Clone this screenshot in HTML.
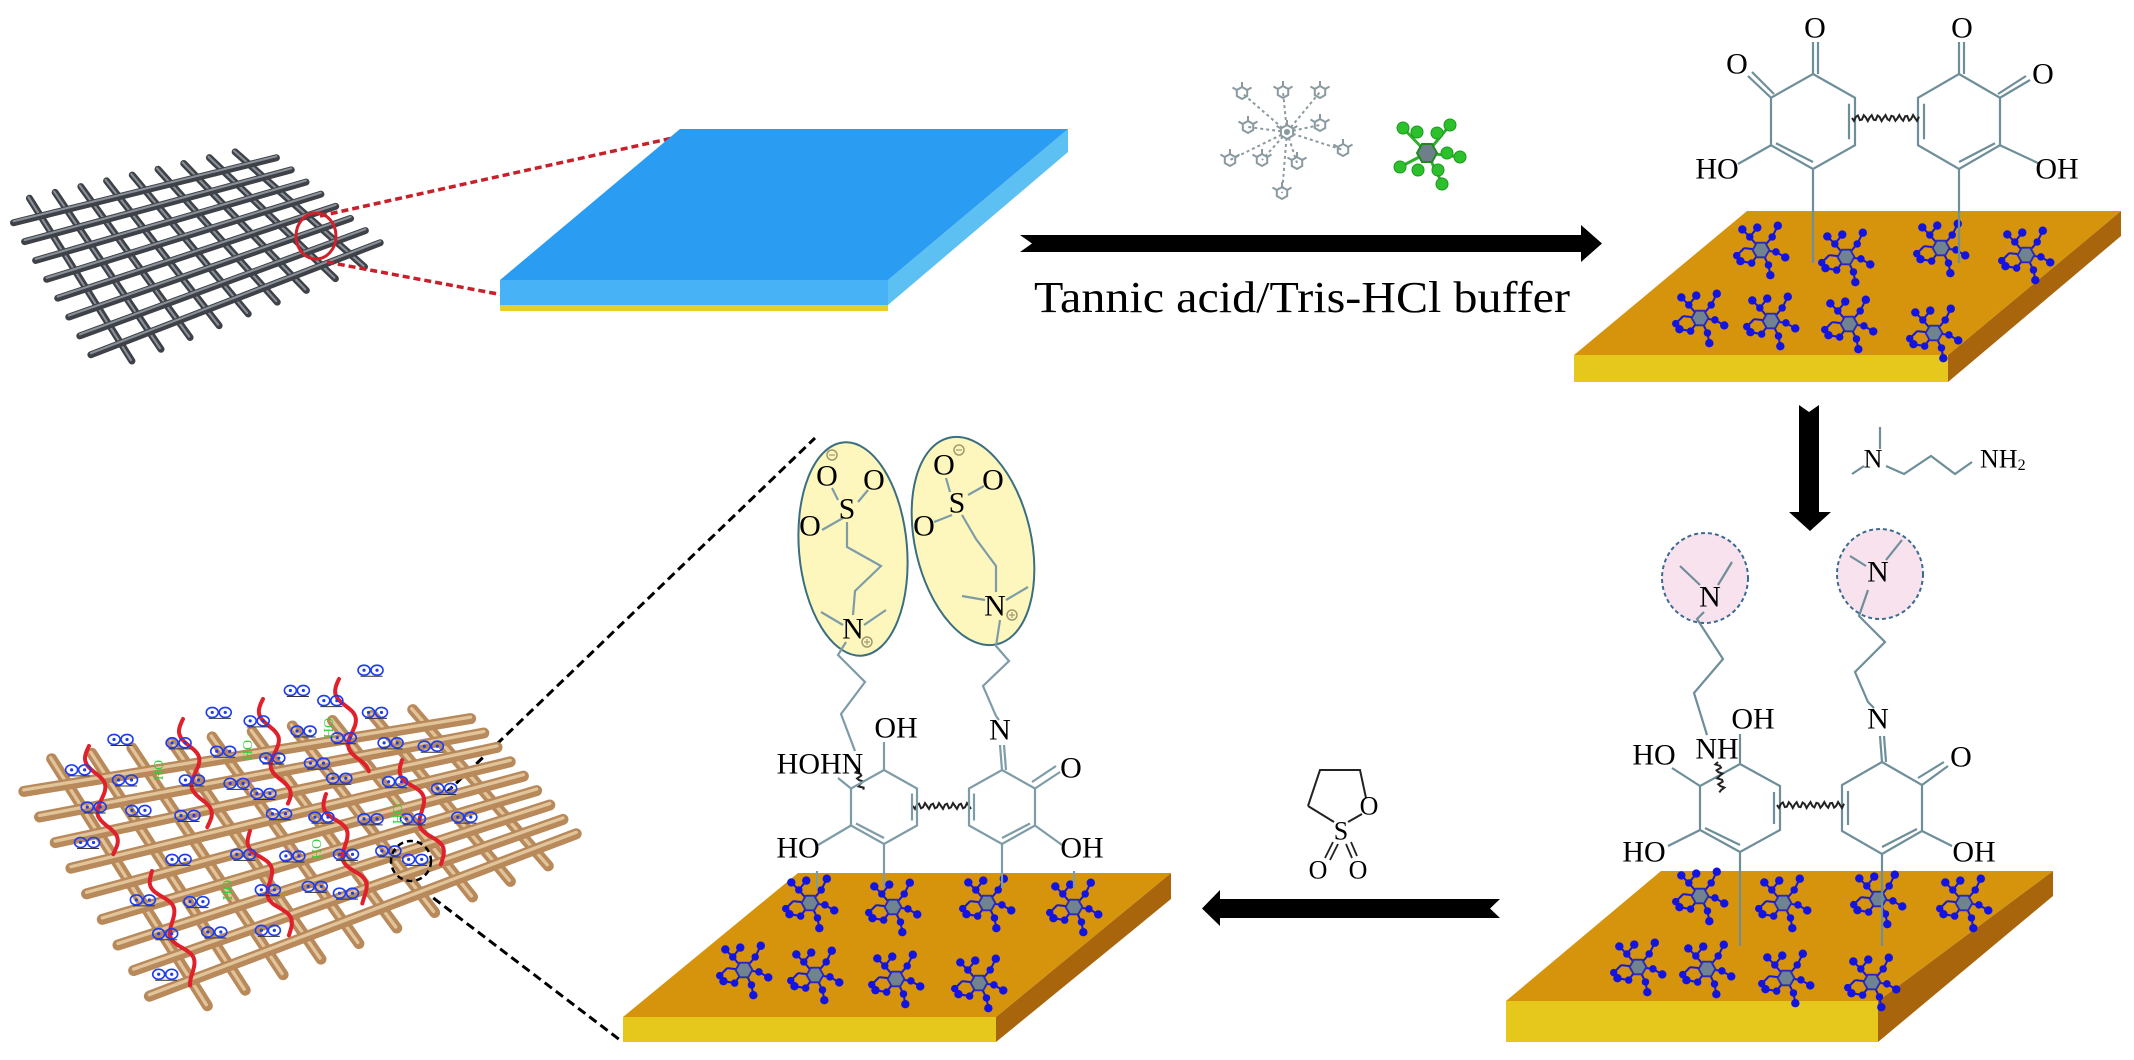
<!DOCTYPE html>
<html><head><meta charset="utf-8"><style>
html,body{margin:0;padding:0;background:#fff;}
svg{display:block;}
text{font-family:"Liberation Serif",serif;fill:#000;}
.lb{font-size:30px;}
</style></head><body>
<svg id="s" width="2134" height="1060" viewBox="0 0 2134 1060" xmlns="http://www.w3.org/2000/svg">
<defs>
<symbol id="cl" viewBox="-32 -30 64 60" overflow="visible">
 <g stroke="#1818d8" stroke-width="2.2" fill="none">
  <line x1="0" y1="0" x2="-12" y2="-14"/><line x1="-12" y1="-14" x2="-20" y2="-22"/><line x1="-12" y1="-14" x2="-4" y2="-24"/>
  <line x1="0" y1="0" x2="12" y2="-14"/><line x1="12" y1="-14" x2="18" y2="-26"/>
  <line x1="0" y1="0" x2="16" y2="2"/><line x1="16" y1="2" x2="26" y2="8"/>
  <line x1="0" y1="0" x2="8" y2="16"/><line x1="8" y1="16" x2="10" y2="27"/>
  <line x1="0" y1="0" x2="-10" y2="14"/><line x1="-10" y1="14" x2="-22" y2="12"/>
  <line x1="0" y1="0" x2="-18" y2="-2"/><line x1="-18" y1="-2" x2="-26" y2="6"/>
 </g>
 <g fill="#1414e0">
  <circle cx="-20" cy="-22" r="4.5"/><circle cx="-4" cy="-24" r="4.5"/><circle cx="-12" cy="-14" r="4"/>
  <circle cx="12" cy="-14" r="4"/><circle cx="18" cy="-26" r="4.5"/>
  <circle cx="16" cy="2" r="4"/><circle cx="26" cy="8" r="4.5"/>
  <circle cx="8" cy="16" r="4"/><circle cx="10" cy="27" r="4.5"/>
  <circle cx="-10" cy="14" r="4"/><circle cx="-22" cy="12" r="4.5"/>
  <circle cx="-26" cy="6" r="4"/>
 </g>
 <polygon points="9,0 4.5,7.8 -4.5,7.8 -9,0 -4.5,-7.8 4.5,-7.8" fill="#6f8490" stroke="#2a2ab8" stroke-width="2"/>
</symbol>
<symbol id="oo" viewBox="-14 -6 28 12" overflow="visible">
 <g fill="none" stroke="#1e3cf0" stroke-width="1.6"><ellipse cx="-6.5" cy="0" rx="6" ry="5"/><ellipse cx="6.5" cy="0" rx="6" ry="5"/></g>
 <circle cx="-6.5" cy="0" r="1.6" fill="#1e3cf0"/><circle cx="6.5" cy="0" r="1.6" fill="#1e3cf0"/>
</symbol>
</defs>

<!-- top-left dark mesh -->
<g id="mesh1"></g>
<ellipse cx="316" cy="236" rx="20" ry="23" fill="none" stroke="#d0202a" stroke-width="3"/>
<line x1="320" y1="216" x2="677" y2="137" stroke="#c8202a" stroke-width="3.5" stroke-dasharray="7,4"/>
<line x1="327" y1="262" x2="514" y2="297" stroke="#c8202a" stroke-width="3.5" stroke-dasharray="7,4"/>

<!-- blue slab -->
<polygon points="888,280 1068,129 1068,152 888,305" fill="#5cc0f2"/>
<polygon points="500,280 888,280 888,305 500,305" fill="#47b2f5"/>
<polygon points="500,305 888,305 888,311 500,311" fill="#e2d030"/>
<polygon points="680,129 1068,129 888,280 500,280" fill="#2a9df2"/>

<!-- top arrow -->
<polygon points="1020,235 1581,235 1581,225 1602,243.5 1581,262 1581,252 1020,252 1032,243.5" fill="#000"/>
<text x="1302" y="312" font-size="44" text-anchor="middle" textLength="536" lengthAdjust="spacingAndGlyphs">Tannic acid/Tris-HCl buffer</text>

<g id="tannic" stroke="#8a9aa0" stroke-width="2" fill="none"></g>
<g stroke="#2fb02f" stroke-width="3">
 <line x1="1427" y1="153" x2="1403" y2="128"/><line x1="1427" y1="153" x2="1450" y2="125"/>
 <line x1="1427" y1="153" x2="1460" y2="157"/><line x1="1427" y1="153" x2="1442" y2="183"/>
 <line x1="1427" y1="153" x2="1400" y2="167"/>
</g>
<g fill="#2cc02c" stroke="#1c9a1c" stroke-width="1">
 <circle cx="1403" cy="128" r="6"/><circle cx="1417" cy="132" r="6"/><circle cx="1437" cy="133" r="6"/><circle cx="1450" cy="125" r="6"/>
 <circle cx="1447" cy="153" r="6"/><circle cx="1460" cy="157" r="6"/><circle cx="1438" cy="170" r="6"/><circle cx="1442" cy="184" r="6"/>
 <circle cx="1418" cy="170" r="6"/><circle cx="1400" cy="167" r="6"/>
</g>
<polygon points="1437,153 1432,162 1422,162 1417,153 1422,144 1432,144" fill="#6f7f8a" stroke="#1c8a1c" stroke-width="2"/>

<!-- top-right slab -->
<polygon points="1948,355 2121,211 2121,236 1948,382" fill="#a8650c"/>
<polygon points="1574,355 1948,355 1948,382 1574,382" fill="#e6c81c"/>
<polygon points="1747,211 2121,211 1948,355 1574,355" fill="#d6940c"/>

<!-- bottom-right slab -->
<polygon points="1878,1001 2053,871 2053,896 1878,1042" fill="#a8650c"/>
<polygon points="1506,1001 1878,1001 1878,1042 1506,1042" fill="#e6c81c"/>
<polygon points="1661,871 2053,871 1878,1001 1506,1001" fill="#d6940c"/>

<ellipse cx="1705" cy="578" rx="43" ry="45" fill="#f8e2ee" stroke="#3a6a90" stroke-width="2" stroke-dasharray="4,3"/>
<ellipse cx="1880" cy="574" rx="43" ry="45" fill="#f8e2ee" stroke="#3a6a90" stroke-width="2" stroke-dasharray="4,3"/>

<g id="cl1"></g>
<g id="bonds" stroke="#6e8e9a" stroke-width="2.2" fill="none"></g>
<g id="wavy" stroke="#222" stroke-width="2" fill="none"></g>

<text class="lb" x="1815" y="28" text-anchor="middle" dominant-baseline="central">O</text>
<text class="lb" x="1737" y="64" text-anchor="middle" dominant-baseline="central">O</text>
<text class="lb" x="1962" y="28" text-anchor="middle" dominant-baseline="central">O</text>
<text class="lb" x="2043" y="74" text-anchor="middle" dominant-baseline="central">O</text>
<text class="lb" x="1717" y="169" text-anchor="middle" dominant-baseline="central">HO</text>
<text class="lb" x="2057" y="169" text-anchor="middle" dominant-baseline="central">OH</text>

<polygon points="1799,405 1809,412 1819,405 1819,512 1831,512 1810,531 1789,512 1799,512" fill="#000"/>
<text x="1873" y="459" font-size="26" text-anchor="middle" dominant-baseline="central">N</text>
<text x="1980" y="459" font-size="26" dominant-baseline="central">NH<tspan font-size="16" dy="6">2</tspan></text>

<!-- bottom-middle slab -->
<polygon points="996,1017 1171,873 1171,899 996,1042" fill="#a8650c"/>
<polygon points="623,1017 996,1017 996,1042 623,1042" fill="#e6c81c"/>
<polygon points="798,873 1171,873 996,1017 623,1017" fill="#d6940c"/>

<ellipse cx="853" cy="549" rx="54" ry="107" transform="rotate(-5 853 549)" fill="#fdf7bd" stroke="#3a6e80" stroke-width="2"/>
<ellipse cx="973" cy="541" rx="58" ry="106" transform="rotate(-13 973 541)" fill="#fdf7bd" stroke="#3a6e80" stroke-width="2"/>

<g id="cl2"></g>
<g id="bonds2" stroke="#7e9ca8" stroke-width="2.2" fill="none"></g>

<text class="lb" x="1710" y="597" text-anchor="middle" dominant-baseline="central">N</text>
<text class="lb" x="1878" y="572" text-anchor="middle" dominant-baseline="central">N</text>
<text class="lb" x="1753" y="719" text-anchor="middle" dominant-baseline="central">OH</text>
<text class="lb" x="1717" y="749" text-anchor="middle" dominant-baseline="central">NH</text>
<text class="lb" x="1654" y="755" text-anchor="middle" dominant-baseline="central">HO</text>
<text class="lb" x="1878" y="719" text-anchor="middle" dominant-baseline="central">N</text>
<text class="lb" x="1961" y="757" text-anchor="middle" dominant-baseline="central">O</text>
<text class="lb" x="1644" y="852" text-anchor="middle" dominant-baseline="central">HO</text>
<text class="lb" x="1974" y="852" text-anchor="middle" dominant-baseline="central">OH</text>

<polyline points="1308,806 1320,770 1360,770 1366,798" fill="none" stroke="#222" stroke-width="2"/>
<line x1="1308" y1="806" x2="1334" y2="822" stroke="#222" stroke-width="2"/>
<line x1="1348" y1="822" x2="1362" y2="814" stroke="#222" stroke-width="2"/>
<text x="1369" y="806" font-size="26" text-anchor="middle" dominant-baseline="central">O</text>
<text x="1341" y="831" font-size="26" text-anchor="middle" dominant-baseline="central">S</text>
<text x="1318" y="870" font-size="26" text-anchor="middle" dominant-baseline="central">O</text>
<text x="1358" y="870" font-size="26" text-anchor="middle" dominant-baseline="central">O</text>
<g stroke="#222" stroke-width="1.8"><line x1="1333" y1="842" x2="1325" y2="858"/><line x1="1338" y1="844" x2="1330" y2="860"/><line x1="1346" y1="844" x2="1352" y2="858"/><line x1="1351" y1="842" x2="1357" y2="856"/></g>

<polygon points="1500,899 1490,908.5 1500,918 1220,918 1220,926 1202,908.5 1220,890 1220,899" fill="#000"/>

<text class="lb" x="827" y="476" text-anchor="middle" dominant-baseline="central">O</text>
<text class="lb" x="874" y="480" text-anchor="middle" dominant-baseline="central">O</text>
<text class="lb" x="847" y="509" text-anchor="middle" dominant-baseline="central">S</text>
<text class="lb" x="810" y="526" text-anchor="middle" dominant-baseline="central">O</text>
<text class="lb" x="853" y="629" text-anchor="middle" dominant-baseline="central">N</text>
<text class="lb" x="944" y="465" text-anchor="middle" dominant-baseline="central">O</text>
<text class="lb" x="993" y="480" text-anchor="middle" dominant-baseline="central">O</text>
<text class="lb" x="957" y="503" text-anchor="middle" dominant-baseline="central">S</text>
<text class="lb" x="924" y="526" text-anchor="middle" dominant-baseline="central">O</text>
<text class="lb" x="995" y="606" text-anchor="middle" dominant-baseline="central">N</text>
<g fill="none" stroke="#a09a70" stroke-width="1.5"><circle cx="832" cy="455" r="5"/><circle cx="959" cy="450" r="5"/><circle cx="867" cy="642" r="5"/><circle cx="1012" cy="615" r="5"/></g>
<g stroke="#a09a70" stroke-width="1.2"><line x1="829" y1="455" x2="835" y2="455"/><line x1="956" y1="450" x2="962" y2="450"/><line x1="864" y1="642" x2="870" y2="642"/><line x1="867" y1="639" x2="867" y2="645"/><line x1="1009" y1="615" x2="1015" y2="615"/><line x1="1012" y1="612" x2="1012" y2="618"/></g>
<text class="lb" x="896" y="728" text-anchor="middle" dominant-baseline="central">OH</text>
<text class="lb" x="820" y="764" text-anchor="middle" dominant-baseline="central">HOHN</text>
<text class="lb" x="1000" y="730" text-anchor="middle" dominant-baseline="central">N</text>
<text class="lb" x="1071" y="768" text-anchor="middle" dominant-baseline="central">O</text>
<text class="lb" x="798" y="848" text-anchor="middle" dominant-baseline="central">HO</text>
<text class="lb" x="1082" y="848" text-anchor="middle" dominant-baseline="central">OH</text>

<line x1="446" y1="793" x2="815" y2="438" stroke="#000" stroke-width="3" stroke-dasharray="9,5"/>
<line x1="411" y1="881" x2="620" y2="1040" stroke="#000" stroke-width="3" stroke-dasharray="9,5"/>

<g id="mesh2"></g>
<g id="deco"></g>
<circle cx="411" cy="861" r="20" fill="none" stroke="#000" stroke-width="2.5" stroke-dasharray="6,4"/>
<g font-size="14">
<text x="154" y="770" transform="rotate(90 154 770)" text-anchor="middle" style="fill:#30d030">OH</text>
<text x="243" y="750" transform="rotate(90 243 750)" text-anchor="middle" style="fill:#30d030">OH</text>
<text x="324" y="728" transform="rotate(90 324 728)" text-anchor="middle" style="fill:#30d030">OH</text>
<text x="393" y="814" transform="rotate(90 393 814)" text-anchor="middle" style="fill:#30d030">OH</text>
<text x="312" y="849" transform="rotate(90 312 849)" text-anchor="middle" style="fill:#30d030">OH</text>
<text x="223" y="890" transform="rotate(90 223 890)" text-anchor="middle" style="fill:#30d030">OH</text>
</g>
</svg>
<script>
(function(){
var NS="http://www.w3.org/2000/svg";
function el(p,t,a){var e=document.createElementNS(NS,t);for(var k in a)e.setAttribute(k,a[k]);p.appendChild(e);return e;}
function g(id){return document.getElementById(id);}
function lerp(a,b,t){return [a[0]+(b[0]-a[0])*t,a[1]+(b[1]-a[1])*t];}
function P(c,s,t){return lerp(lerp(c[0],c[1],s),lerp(c[3],c[2],s),t);}
function mesh(id,c,n,m,w,col,hi){
 var G=g(id);
 for(var i=0;i<n;i++){var s=(i+0.5)/n;var a=P(c,s,-0.06),b=P(c,s,1.06);
  el(G,'line',{x1:a[0],y1:a[1],x2:b[0],y2:b[1],stroke:col,'stroke-width':w,'stroke-linecap':'round'});
  el(G,'line',{x1:a[0]-1,y1:a[1]-1,x2:b[0]-1,y2:b[1]-1,stroke:hi,'stroke-width':w*0.3,'stroke-linecap':'round'});}
 for(var j=0;j<m;j++){var t=(j+0.5)/m;var a=P(c,-0.06,t),b=P(c,1.06,t);
  el(G,'line',{x1:a[0],y1:a[1],x2:b[0],y2:b[1],stroke:col,'stroke-width':w,'stroke-linecap':'round'});
  el(G,'line',{x1:a[0],y1:a[1]-1.5,x2:b[0],y2:b[1]-1.5,stroke:hi,'stroke-width':w*0.3,'stroke-linecap':'round'});}
}
mesh('mesh1',[[22,210],[255,155],[372,255],[112,358]],9,8,7,'#3e4248','#8a9098');
mesh('mesh2',[[40,775],[440,715],[560,850],[180,1000]],10,9,11,'#b8895a','#e2c49a');

function clusters(id,pts){var G=g(id);pts.forEach(function(p){el(G,'use',{href:'#cl',x:p[0]-30,y:p[1]-28,width:60,height:56});});}
clusters('cl1',[[1761,250],[1846,257],[1941,248],[2026,255],[1700,318],[1771,321],[1849,324],[1934,333],
 [1700,896],[1783,903],[1878,899],[1964,903],[1638,967],[1707,969],[1786,978],[1872,982]]);
clusters('cl2',[[810,903],[893,907],[987,903],[1074,907],[744,970],[815,975],[896,979],[979,983]]);

function line(G,a,b){el(G,'line',{x1:a[0],y1:a[1],x2:b[0],y2:b[1]});}
function poly(G,pts){el(G,'polyline',{points:pts.map(function(p){return p.join(',')}).join(' ')});}
function dbl(G,a,b){line(G,a,b);}
function ring(G,cx,top,bot,hw){var T=[cx,top],B=[cx,bot],h=(bot-top);var UL=[cx-hw,top+h*0.25],UR=[cx+hw,top+h*0.25],LL=[cx-hw,top+h*0.75],LR=[cx+hw,top+h*0.75];
 el(G,'polygon',{points:[T,UR,LR,B,LL,UL].map(function(p){return p.join(',')}).join(' ')});return {T:T,B:B,UL:UL,UR:UR,LL:LL,LR:LR};}
var B1=g('bonds');
var r1=ring(B1,1813,74,169,42), r2=ring(B1,1959,74,169,41);
dbl(B1,[r1.UR[0]-6,r1.UR[1]+6],[r1.LR[0]-6,r1.LR[1]-6]);
dbl(B1,[r1.LL[0]+5,r1.LL[1]-2],[r1.B[0],r1.B[1]-7]);
dbl(B1,[r2.UL[0]+6,r2.UL[1]+6],[r2.LL[0]+6,r2.LL[1]-6]);
dbl(B1,[r2.LR[0]-5,r2.LR[1]-2],[r2.B[0],r2.B[1]-7]);
line(B1,r1.T,[1813,42]);line(B1,[1818,74],[1818,42]);
line(B1,r1.UL,[1748,76]);line(B1,[1774,94],[1752,72]);
line(B1,r2.T,[1959,42]);line(B1,[1964,74],[1964,42]);
line(B1,r2.UR,[2030,80]);line(B1,[1998,94],[2026,76]);
line(B1,r1.LL,[1738,164]);line(B1,r2.LR,[2040,164]);
line(B1,r1.B,[1813,263]);line(B1,r2.B,[1959,263]);
poly(B1,[[1880,427],[1880,449]]);poly(B1,[[1864,466],[1852,474]]);
poly(B1,[[1886,466],[1904,474],[1931,456],[1955,474],[1972,462]]);
var r3=ring(B1,1740,764,852,40), r4=ring(B1,1882,762,854,40);
dbl(B1,[r3.UR[0]-6,r3.UR[1]+6],[r3.LR[0]-6,r3.LR[1]-6]);
dbl(B1,[r3.LL[0]+5,r3.LL[1]-2],[r3.B[0],r3.B[1]-7]);
dbl(B1,[r4.UL[0]+6,r4.UL[1]+6],[r4.LL[0]+6,r4.LL[1]-6]);
dbl(B1,[r4.LR[0]-5,r4.LR[1]-2],[r4.B[0],r4.B[1]-7]);
line(B1,r3.T,[1740,734]);line(B1,r3.UL,[1672,768]);line(B1,r3.LL,[1668,846]);
line(B1,r4.T,[1880,736]);line(B1,[1886,762],[1884,736]);
line(B1,r4.UR,[1948,766]);line(B1,[1918,778],[1944,762]);line(B1,r4.LR,[1952,846]);
line(B1,r3.B,[1740,946]);line(B1,r4.B,[1882,946]);
poly(B1,[[1704,612],[1697,619],[1723,659],[1694,693],[1707,735]]);
line(B1,[1700,585],[1680,566]);line(B1,[1718,585],[1732,562]);
poly(B1,[[1868,590],[1859,616],[1885,642],[1855,672],[1868,702],[1874,708]]);
line(B1,[1866,566],[1850,556]);line(B1,[1886,560],[1902,540]);
var B2=g('bonds2');
var r5=ring(B2,884,770,844,33), r6=ring(B2,1002,770,844,33);
dbl(B2,[r5.UR[0]-5,r5.UR[1]+5],[r5.LR[0]-5,r5.LR[1]-5]);
dbl(B2,[r5.LL[0]+5,r5.LL[1]-2],[r5.B[0],r5.B[1]-6]);
dbl(B2,[r6.UL[0]+5,r6.UL[1]+5],[r6.LL[0]+5,r6.LL[1]-5]);
dbl(B2,[r6.LR[0]-5,r6.LR[1]-2],[r6.B[0],r6.B[1]-6]);
line(B2,r5.T,[884,742]);line(B2,r5.UL,[838,778]);line(B2,r5.LL,[818,845]);
line(B2,r6.T,[1000,745]);line(B2,[1006,770],[1004,745]);
line(B2,r6.UR,[1060,772]);line(B2,[1032,782],[1056,766]);line(B2,r6.LR,[1062,845]);
line(B2,r5.B,[884,888]);line(B2,r6.B,[1002,888]);line(B2,[817,871],[817,888]);line(B2,[1074,871],[1074,888]);
poly(B2,[[846,642],[838,655],[865,682],[841,714],[855,751]]);
poly(B2,[[847,522],[847,547],[881,566],[855,591],[853,615]]);
line(B2,[843,625],[821,612]);line(B2,[864,625],[886,610]);
line(B2,[843,518],[822,530]);line(B2,[838,500],[832,488]);line(B2,[858,502],[868,490]);
poly(B2,[[1000,620],[996,646],[1009,661],[983,686],[996,716],[999,720]]);
poly(B2,[[962,515],[976,539],[996,566],[996,592]]);
line(B2,[985,600],[962,596]);line(B2,[1006,600],[1028,587]);
line(B2,[952,515],[934,522]);line(B2,[950,492],[946,478]);line(B2,[968,495],[984,486]);

function wavy(G,a,b,amp,wl,col,w){var dx=b[0]-a[0],dy=b[1]-a[1],L=Math.hypot(dx,dy),ux=dx/L,uy=dy/L,nx=-uy,ny=ux,d='';var N=Math.max(8,Math.round(L/2));
 for(var i=0;i<=N;i++){var s=i/N*L,o=amp*Math.sin(s/wl*2*Math.PI);var x=a[0]+ux*s+nx*o,y=a[1]+uy*s+ny*o;d+=(i?'L':'M')+x.toFixed(1)+','+y.toFixed(1);}
 var p=el(G,'path',{d:d});if(col){p.setAttribute('stroke',col);p.setAttribute('stroke-width',w);p.setAttribute('fill','none');p.setAttribute('stroke-linecap','round');}}
var W=g('wavy');
wavy(W,[1852,118],[1919,118],3,7);
wavy(W,[1777,805],[1844,805],3,7);
wavy(W,[913,806],[971,806],3,7);
wavy(W,[1718,762],[1722,792],3,7);
wavy(W,[858,770],[862,790],3,7);

var T=g('tannic');
function hex(G,cx,cy,r){var p=[];for(var k=0;k<6;k++){var a=Math.PI/6+k*Math.PI/3;p.push((cx+r*Math.cos(a)).toFixed(1)+','+(cy+r*Math.sin(a)).toFixed(1));}el(G,'polygon',{points:p.join(' ')});
 for(var k=0;k<3;k++){var a=-Math.PI/2+k*Math.PI/3-Math.PI/3;el(G,'line',{x1:cx+r*Math.cos(a),y1:cy+r*Math.sin(a),x2:cx+(r+5)*Math.cos(a),y2:cy+(r+5)*Math.sin(a)});}}
var hx=[[1287,132],[1242,93],[1283,92],[1320,92],[1248,127],[1320,125],[1343,150],[1230,160],[1262,160],[1297,163],[1282,193]];
hx.forEach(function(h,i){hex(T,h[0],h[1],i?6:7);if(i)el(T,'line',{x1:1287,y1:132,x2:h[0],y2:h[1],'stroke-dasharray':'3,3'});});

var D=g('deco');
var chains=[[[89,746],[114,854]],[[183,719],[208,827]],[[263,699],[286,804]],[[339,679],[362,773]],[[402,760],[442,864]],[[326,794],[366,902]],[[250,831],[290,935]],[[152,871],[196,983]]];
chains.forEach(function(c){wavy(D,c[0],c[1],7,55,'#e0202a',4);});
var oo=[[270,620],[490,540],[665,475],[830,415],[175,710],[400,630],[740,505],[575,565],[680,595],[840,540],[875,630],[965,640],[280,740],[430,740],[500,655],[610,675],[710,690],[770,615],[210,820],[310,830],[420,845],[530,750],[590,780],[760,735],[885,745],[995,765],[195,925],[400,975],[545,960],[625,840],[720,850],[830,855],[925,855],[1040,850],[655,965],[775,960],[870,950],[930,975],[320,1095],[440,1100],[600,1065],[705,1055],[775,1075],[370,1195],[480,1190],[600,1185],[370,1315]];
oo.forEach(function(p){var x=p[0]/2.24,y=p[1]/2.96+530;el(D,'line',{x1:x-10,y1:y+6,x2:x+12,y2:y+6,stroke:'#333','stroke-width':1});el(D,'use',{href:'#oo',x:x-14,y:y-6,width:28,height:12});});
})();
</script>
</body></html>
